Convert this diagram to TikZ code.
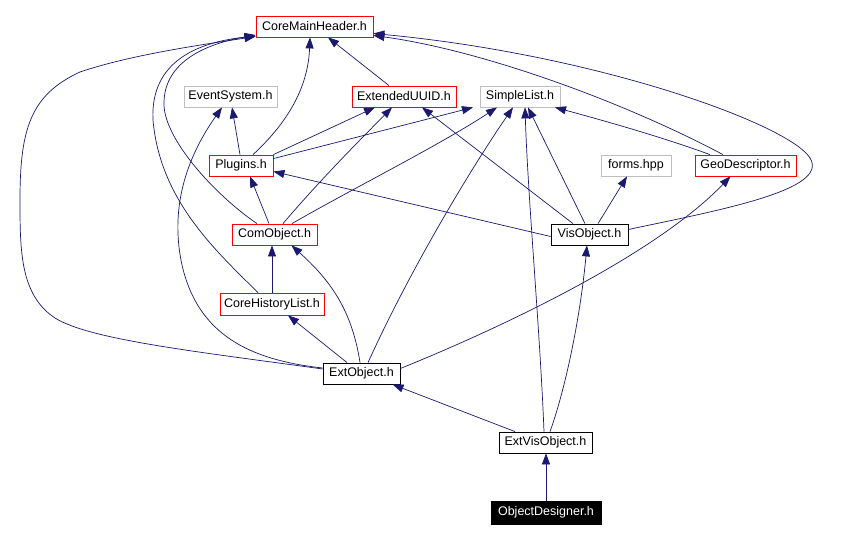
\documentclass[tikz,border=0pt]{standalone}
\usepackage{fontspec}
\setmainfont{Liberation Sans}
\usetikzlibrary{arrows.meta}
\definecolor{edgec}{HTML}{191970}
\definecolor{redb}{HTML}{FF0000}
\definecolor{grayb}{HTML}{BFBFBF}
\begin{document}
\begin{tikzpicture}[x=1pt,y=-1pt,
 file/.style={draw, line width=0.8pt, inner sep=0pt, minimum height=21pt, font=\fontsize{12.5}{14}\selectfont},
 redfile/.style={file, draw=redb},
 grayfile/.style={file, draw=grayb},
 blackfile/.style={file, draw=black},
 curfile/.style={file, fill=black, text=white, draw=black, minimum height=23pt},
 dep/.style={draw=edgec, line width=0.7pt, -{Triangle[length=11pt,width=8pt]}}
]
\useasboundingbox[fill=white] (0,0) rectangle (852,540);

\node[redfile, minimum width=117pt] (cmh) at (314.5,26.5) {CoreMainHeader.h};
\node[grayfile, minimum width=93pt] (es) at (230.5,96.5) {EventSystem.h};
\node[redfile, minimum width=104pt] (euuid) at (404,96.5) {ExtendedUUID.h};
\node[grayfile, minimum width=80pt] (sl) at (520,96.5) {SimpleList.h};
\node[redfile, minimum width=64pt] (plugins) at (241,165.5) {Plugins.h};
\node[grayfile, minimum width=70pt] (forms) at (636,165.5) {forms.hpp};
\node[redfile, minimum width=101pt] (geo) at (745.5,165.5) {GeoDescriptor.h};
\node[redfile, minimum width=85pt] (com) at (274.5,234.5) {ComObject.h};
\node[blackfile, minimum width=77pt] (vis) at (589.5,234.5) {VisObject.h};
\node[redfile, minimum width=104pt, minimum height=22pt] (chl) at (272,304) {CoreHistoryList.h};
\node[blackfile, minimum width=77pt] (ext) at (361.5,373.5) {ExtObject.h};
\node[blackfile, minimum width=93pt] (evo) at (545.5,442.5) {ExtVisObject.h};
\node[curfile, minimum width=110pt] (od) at (546,512.5) {ObjectDesigner.h};

% Plugins
\draw[dep] ([xshift=12pt]plugins.north) .. controls (285,125) and (308,90) .. ([xshift=-4.5pt]cmh.south);
\draw[dep] ([xshift=-1pt]plugins.north) -- ([xshift=1.5pt]es.south);
\draw[dep] (plugins.north east) -- ([xshift=-29pt]euuid.south);
\draw[dep] ([yshift=-4pt]plugins.north east) -- ([xshift=-47pt]sl.south);
% ExtendedUUID
\draw[dep] ([xshift=-15pt]euuid.north) -- ([xshift=13.5pt]cmh.south);
% GeoDescriptor
\draw[dep] ([xshift=-22.5pt]geo.north) .. controls (620,100) and (480,50) .. ([yshift=-9pt]cmh.east);
\draw[dep] ([xshift=-35.5pt]geo.north) .. controls (670,140) and (620,125) .. ([xshift=35pt]sl.south);
% VisObject
\draw[dep] ([yshift=5pt]vis.east) .. controls (720,210) and (830,190) .. (810,158) .. controls (790,125) and (600,55) .. ([yshift=-7pt]cmh.east);
\draw[dep] ([yshift=-2pt]vis.west) -- ([yshift=-6pt]plugins.east);
\draw[dep] ([xshift=-16.5pt]vis.north) -- ([xshift=18pt]euuid.south);
\draw[dep] ([xshift=-4.5pt]vis.north) -- ([xshift=8pt]sl.south);
\draw[dep] ([xshift=8.5pt]vis.north) -- ([xshift=-9pt]forms.south);
% ComObject
\draw[dep] ([xshift=-17.5pt]com.north) .. controls (215,195) and (165,140) .. (164,105) .. controls (163,65) and (200,45) .. ([yshift=-8.5pt]cmh.west);
\draw[dep] ([xshift=-5.5pt]com.north) -- ([xshift=9pt]plugins.south);
\draw[dep] ([xshift=8.5pt]com.north) .. controls (320,180) and (360,140) .. ([xshift=-12pt]euuid.south);
\draw[dep] ([xshift=17.5pt]com.north) .. controls (350,190) and (440,145) .. ([xshift=-23pt]sl.south);
% CoreHistoryList
\draw[dep] ([xshift=-14pt]chl.north) .. controls (215,250) and (160,200) .. (153,120) .. controls (150,60) and (200,42) .. ([yshift=-9.5pt]cmh.west);
\draw[dep] (chl.north) -- (com.south -| chl.north);
% ExtObject
\draw[dep] ([yshift=4.5pt]ext.west) .. controls (200,352) and (90,340) .. (55,318) .. controls (20,295) and (20,250) .. (20,200) .. controls (20,130) and (30,95) .. (80,72) .. controls (130,55) and (200,45) .. ([yshift=-10pt]cmh.west);
\draw[dep] ([yshift=5.5pt]ext.west) .. controls (250,360) and (198,335) .. (182,265) .. controls (170,210) and (185,160) .. ([xshift=-8.5pt]es.south);
\draw[dep] ([xshift=-1.5pt]ext.north) .. controls (352,310) and (330,280) .. ([xshift=17pt]com.south);
\draw[dep] ([xshift=-14.5pt]ext.north) -- ([xshift=16pt]chl.south);
\draw[dep] ([xshift=6.5pt]ext.north) .. controls (410,270) and (470,170) .. ([xshift=-7pt]sl.south);
\draw[dep] ([yshift=5pt]ext.east) .. controls (520,320) and (660,250) .. ([xshift=-15pt]geo.south);
% ExtVisObject
\draw[dep] ([xshift=-30.5pt]evo.north) -- ([xshift=31pt]ext.south);
\draw[dep] ([xshift=-1.5pt]evo.north) .. controls (540,330) and (528,200) .. ([xshift=5pt]sl.south);
\draw[dep] ([xshift=4.5pt]evo.north) .. controls (565,390) and (580,320) .. ([xshift=-2.5pt]vis.south);
% ObjectDesigner
\draw[dep] (od.north) -- (evo.south -| od.north);
\end{tikzpicture}
\end{document}
